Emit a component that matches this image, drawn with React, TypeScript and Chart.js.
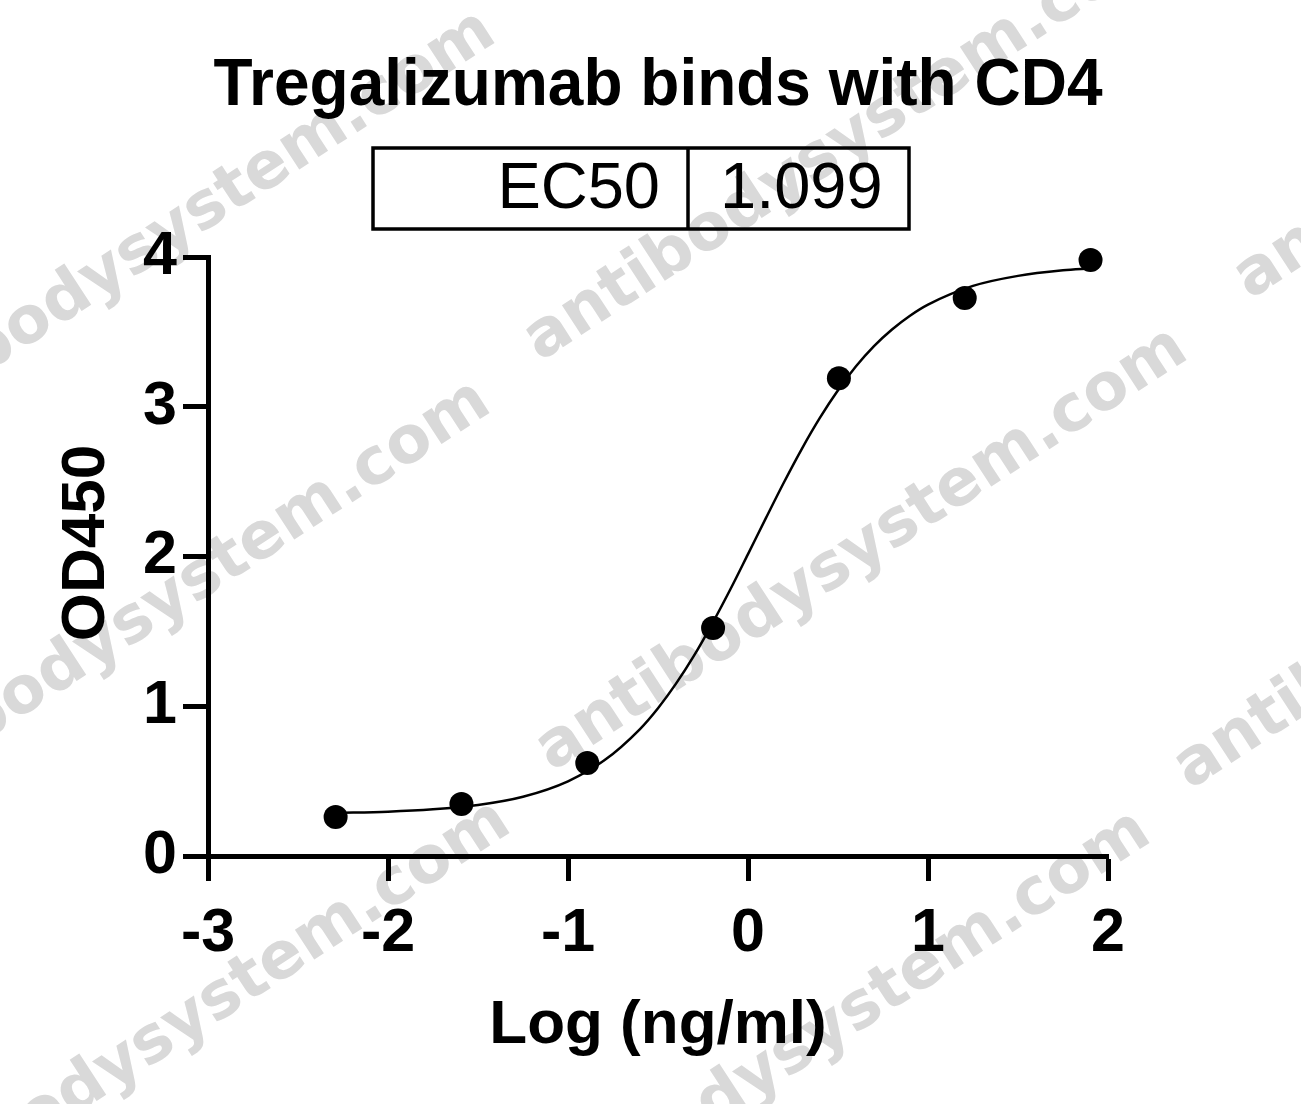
import React, { useEffect, useRef } from 'react';
import { Chart, registerables } from 'chart.js';

Chart.register(...registerables);

const chartTitle = 'Tregalizumab binds with CD4';
const ec50Label = 'EC50';
const ec50Value = '1.099';
const xAxisTitle = 'Log (ng/ml)';
const yAxisTitle = 'OD450';
const watermarkText = 'antibodysystem.com';

const xTicks = [-3, -2, -1, 0, 1, 2];
const yTicks = [0, 1, 2, 3, 4];

// measured points (log concentration, OD450)
const pointX = [-2.291, -1.592, -0.893, -0.194, 0.505, 1.204, 1.903];
const pointY = [0.26, 0.347, 0.621, 1.523, 3.19, 3.726, 3.98];

// fitted curve
const curveX = [-2.29, -2.0, -1.75, -1.5, -1.25, -1.0, -0.8, -0.6, -0.5, -0.4, -0.3, -0.2, -0.1, 0.0, 0.1, 0.2, 0.3, 0.4, 0.5, 0.6, 0.7, 0.8, 0.9, 1.0, 1.25, 1.5, 1.75, 1.903];
const curveY = [0.288, 0.296, 0.312, 0.341, 0.396, 0.499, 0.637, 0.848, 0.987, 1.151, 1.338, 1.549, 1.776, 2.016, 2.258, 2.496, 2.721, 2.927, 3.11, 3.27, 3.405, 3.516, 3.608, 3.682, 3.807, 3.874, 3.911, 3.924];

const FONT = "'Liberation Sans', Arial, sans-serif";

const watermarkStarts: [number, number][] = [
  [-140, 455],
  [540, 362],
  [1250, 300],
  [-145, 825],
  [552, 772],
  [1190, 790],
  [-125, 1245],
  [515, 1255],
];

const decorPlugin = {
  id: 'decor',
  beforeDraw(chart: any) {
    const ctx = chart.ctx;
    ctx.save();
    ctx.fillStyle = '#ffffff';
    ctx.fillRect(0, 0, chart.width, chart.height);
    ctx.fillStyle = '#d9d9d9';
    ctx.font = `bold 65px 'DejaVu Sans', sans-serif`;
    ctx.textAlign = 'left';
    ctx.textBaseline = 'alphabetic';
    for (const [sx, sy] of watermarkStarts) {
      ctx.save();
      ctx.translate(sx, sy);
      ctx.rotate((-33 * Math.PI) / 180);
      ctx.fillText(watermarkText, 0, 0);
      ctx.restore();
    }
    ctx.restore();
  },
  afterDraw(chart: any) {
    const ctx = chart.ctx;
    const area = chart.chartArea;
    const cx = (area.left + area.right) / 2;
    ctx.save();
    ctx.fillStyle = '#000';
    ctx.strokeStyle = '#000';
    // title
    ctx.font = `bold 64px ${FONT}`;
    ctx.textAlign = 'center';
    ctx.textBaseline = 'alphabetic';
    ctx.save();
    ctx.translate(cx, 105);
    ctx.scale(1, 1.04);
    ctx.fillText(chartTitle, 0, 0);
    ctx.restore();
    // EC50 box
    ctx.lineWidth = 3.5;
    ctx.strokeRect(373, 148, 536, 81);
    ctx.beginPath();
    ctx.moveTo(688, 148);
    ctx.lineTo(688, 229);
    ctx.stroke();
    ctx.font = `65px ${FONT}`;
    ctx.textAlign = 'right';
    ctx.fillText(ec50Label, 660, 208);
    ctx.textAlign = 'left';
    ctx.fillText(ec50Value, 720, 208);
    // x axis title
    ctx.font = `bold 62px ${FONT}`;
    ctx.textAlign = 'center';
    ctx.fillText(xAxisTitle, cx, 1043);
    // y axis title
    ctx.save();
    ctx.translate(104, 543);
    ctx.rotate(-Math.PI / 2);
    ctx.fillText(yAxisTitle, 0, 0);
    ctx.restore();
    ctx.restore();
  },
};

export default function App() {
  const canvasRef = useRef<HTMLCanvasElement | null>(null);

  useEffect(() => {
    const canvas = canvasRef.current;
    if (!canvas) return;
    const curveData = curveX.map((x, i) => ({ x, y: curveY[i] }));
    const pointData = pointX.map((x, i) => ({ x, y: pointY[i] }));
    const chart = new Chart(canvas, {
      type: 'scatter',
      data: {
        datasets: [
          {
            label: 'fit',
            data: curveData,
            showLine: true,
            borderColor: '#000',
            borderWidth: 2.5,
            pointRadius: 0,
            cubicInterpolationMode: 'monotone',
            clip: false,
          } as any,
          {
            label: 'data',
            data: pointData,
            showLine: false,
            backgroundColor: '#000',
            borderColor: '#000',
            pointRadius: 12,
            pointBorderWidth: 0,
            clip: false,
          } as any,
        ],
      },
      options: {
        responsive: false,
        animation: false,
        events: [],
        layout: { padding: { top: 257, right: 193, bottom: 0, left: 0 } },
        plugins: {
          legend: { display: false },
          title: { display: false },
          tooltip: { enabled: false },
        },
        scales: {
          x: {
            type: 'linear',
            position: 'bottom',
            min: -3,
            max: 2,
            afterBuildTicks: (s: any) => {
              s.ticks = xTicks.map((v) => ({ value: v }));
            },
            afterFit: (s: any) => {
              s.height = 248;
            },
            grid: {
              display: true,
              drawOnChartArea: false,
              drawTicks: true,
              tickLength: 25,
              tickWidth: 5,
              tickColor: '#000',
            },
            border: { display: true, color: '#000', width: 5 },
            ticks: {
              color: '#000',
              padding: 17,
              maxRotation: 0,
              font: { family: FONT, size: 61, weight: 'bold' },
              callback: (v: any) => String(v),
            },
          },
          y: {
            type: 'linear',
            position: 'left',
            min: 0,
            max: 4,
            afterBuildTicks: (s: any) => {
              s.ticks = yTicks.map((v) => ({ value: v }));
            },
            afterFit: (s: any) => {
              s.width = 208;
            },
            grid: {
              display: true,
              drawOnChartArea: false,
              drawTicks: true,
              tickLength: 25,
              tickWidth: 5,
              tickColor: '#000',
            },
            border: { display: true, color: '#000', width: 5 },
            ticks: {
              color: '#000',
              padding: 6,
              font: { family: FONT, size: 61, weight: 'bold' },
              callback: (v: any) => String(v),
            },
          },
        },
      } as any,
      plugins: [decorPlugin],
    });
    return () => chart.destroy();
  }, []);

  return (
    <div style={{ position: 'absolute', left: 0, top: 0, width: 1301, height: 1104, background: '#fff' }}>
      <canvas ref={canvasRef} width={1301} height={1104} style={{ display: 'block', width: 1301, height: 1104 }} />
    </div>
  );
}
